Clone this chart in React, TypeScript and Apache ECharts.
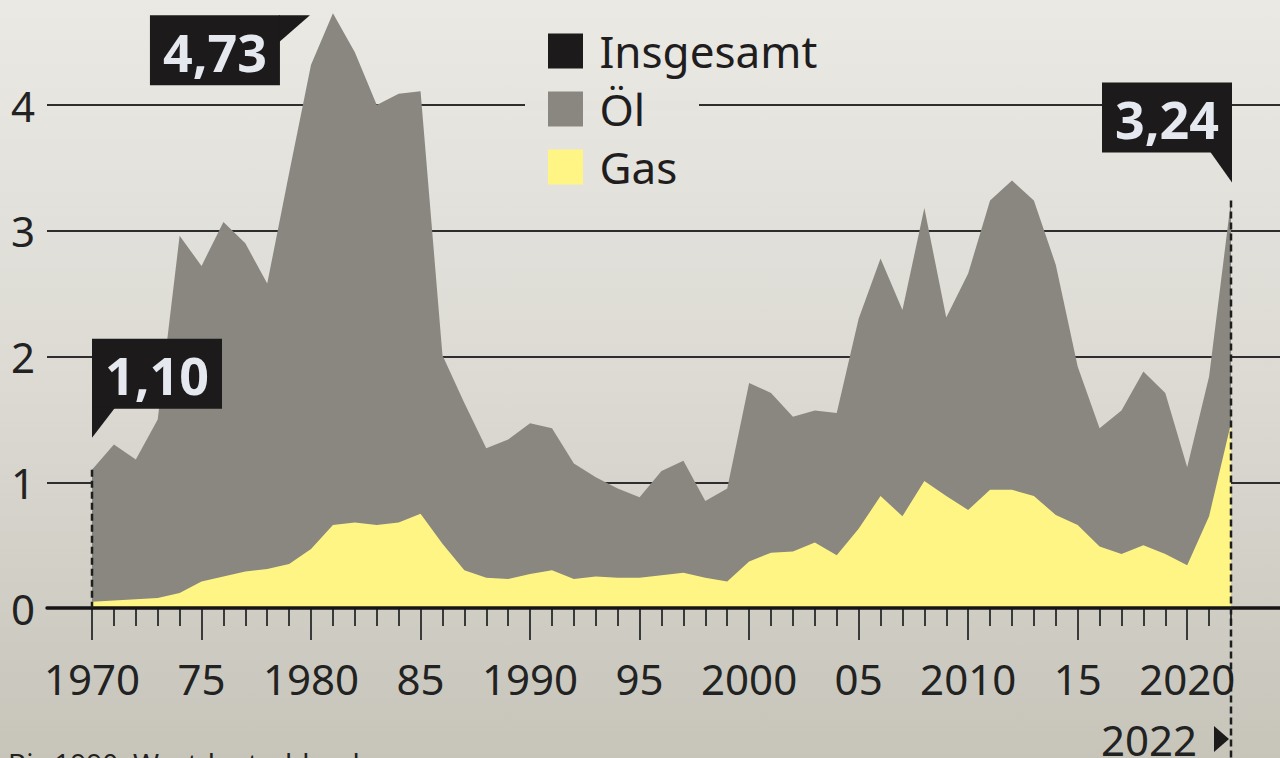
import React, { useEffect, useRef } from 'react';
import * as echarts from 'echarts';

const years = [
  '1970','1971','1972','1973','1974','1975','1976','1977','1978','1979',
  '1980','1981','1982','1983','1984','1985','1986','1987','1988','1989',
  '1990','1991','1992','1993','1994','1995','1996','1997','1998','1999',
  '2000','2001','2002','2003','2004','2005','2006','2007','2008','2009',
  '2010','2011','2012','2013','2014','2015','2016','2017','2018','2019',
  '2020','2021','2022',
];

// Insgesamt (Öl + Gas)
const total = [
  1.10, 1.30, 1.18, 1.50, 2.96, 2.72, 3.07, 2.90, 2.58, 3.46,
  4.32, 4.73, 4.42, 4.00, 4.09, 4.11, 2.01, 1.63, 1.27, 1.34,
  1.47, 1.43, 1.15, 1.04, 0.95, 0.88, 1.09, 1.17, 0.85, 0.95,
  1.79, 1.71, 1.52, 1.57, 1.55, 2.30, 2.78, 2.37, 3.18, 2.31,
  2.66, 3.24, 3.40, 3.24, 2.73, 1.92, 1.43, 1.57, 1.88, 1.71,
  1.12, 1.84, 3.24,
];

const gas = [
  0.05, 0.06, 0.07, 0.08, 0.12, 0.21, 0.25, 0.29, 0.31, 0.35,
  0.47, 0.66, 0.68, 0.66, 0.68, 0.75, 0.51, 0.30, 0.24, 0.23,
  0.27, 0.30, 0.23, 0.25, 0.24, 0.24, 0.26, 0.28, 0.24, 0.21,
  0.37, 0.44, 0.45, 0.52, 0.42, 0.63, 0.89, 0.73, 1.01, 0.89,
  0.78, 0.94, 0.94, 0.89, 0.74, 0.66, 0.49, 0.43, 0.50, 0.43,
  0.34, 0.73, 1.47,
];

const yTickMax = 4;
const legendNames = ['Insgesamt', 'Öl', 'Gas'];
const calloutYears = ['1970', '1981', '2022'];
const lastYearLabel = '2022';
const footnote = 'Bis 1990: Westdeutschland';

const FONT = '"Noto Sans", "Open Sans", sans-serif';
const C_BLACK = '#1c1a1a';
const C_OIL = '#898780';
const C_GAS = '#fff585';
const C_TEXT = '#222222';

const fmt = (v: number) => v.toFixed(2).replace('.', ',');

export default function App() {
  const ref = useRef<HTMLDivElement>(null);

  useEffect(() => {
    const chart = echarts.init(ref.current!, null, { renderer: 'svg' });
    const tickStyle = { color: '#3a3a3a', width: 2 };
    // grid 0: gridlines 0..4 (4 at y=105, 0 at y=608); grid 1: data, same scale, reaching the top edge
    const gridTop0 = 105;
    const gridBottom = 150;
    const unitPx = (758 - gridBottom - gridTop0) / yTickMax;
    const dataMax = (758 - gridBottom) / unitPx;
    const option: any = {
      animation: false,
      backgroundColor: 'transparent',
      grid: [
        { left: 47, right: 0, top: gridTop0, bottom: gridBottom },
        { left: 92, right: 49, top: 0, bottom: gridBottom },
      ],
      xAxis: [
        {
          gridIndex: 0, type: 'value', min: 0, max: 1, z: 10,
          axisLine: { show: true, onZero: false, lineStyle: { color: '#161414', width: 3.5 } },
          axisTick: { show: false }, axisLabel: { show: false }, splitLine: { show: false },
        },
        {
          gridIndex: 1, type: 'category', data: years, boundaryGap: false, position: 'bottom',
          axisLine: { show: false },
          axisTick: { show: true, interval: 0, length: 18, lineStyle: tickStyle },
          axisLabel: { show: false }, splitLine: { show: false },
        },
        {
          gridIndex: 1, type: 'category', data: years, boundaryGap: false, position: 'bottom',
          axisLine: { show: false },
          axisTick: {
            show: true, length: 32, lineStyle: tickStyle,
            interval: (i: number) => Number(years[i]) % 5 === 0,
          },
          axisLabel: {
            interval: (i: number) => Number(years[i]) % 5 === 0,
            formatter: (v: string) => (Number(v) % 10 === 0 ? v : v.slice(2)),
            fontSize: 42, color: C_TEXT, fontFamily: FONT, margin: 70, verticalAlign: 'middle',
          },
          splitLine: { show: false },
        },
      ],
      yAxis: [
        {
          gridIndex: 0, type: 'value', min: 0, max: yTickMax, interval: 1,
          axisLine: { show: false }, axisTick: { show: false },
          axisLabel: { fontSize: 42, color: C_TEXT, fontFamily: FONT, margin: 12 },
          splitLine: { show: true, lineStyle: { color: '#2e2e2e', width: 2 } },
        },
        { gridIndex: 1, type: 'value', min: 0, max: dataMax, show: false, splitLine: { show: false } },
      ],
      legend: {
        orient: 'vertical', left: 548, top: 29, padding: 0,
        itemWidth: 35, itemHeight: 35, itemGap: 14, icon: 'rect', selectedMode: false,
        formatter: (n: string) => ' ' + n,
        textStyle: { fontSize: 44, lineHeight: 44, color: '#1f1d1d', fontFamily: FONT },
        data: [
          { name: legendNames[0], itemStyle: { color: C_BLACK, opacity: 1 } },
          { name: legendNames[1], itemStyle: { color: C_OIL } },
          { name: legendNames[2], itemStyle: { color: C_GAS } },
        ],
      },
      series: [
        {
          name: legendNames[0], type: 'line', xAxisIndex: 1, yAxisIndex: 1, data: total,
          symbol: 'none', silent: true, lineStyle: { width: 0, opacity: 0 },
          itemStyle: { color: C_BLACK }, z: 1,
        },
        {
          name: legendNames[1], type: 'line', xAxisIndex: 1, yAxisIndex: 1, data: total,
          symbol: 'none', silent: true, lineStyle: { width: 0 },
          itemStyle: { color: C_OIL }, areaStyle: { color: C_OIL, opacity: 1 }, z: 2,
        },
        {
          name: legendNames[2], type: 'line', xAxisIndex: 1, yAxisIndex: 1, data: gas,
          symbol: 'none', silent: true, lineStyle: { width: 0 },
          itemStyle: { color: C_GAS }, areaStyle: { color: C_GAS, opacity: 1 }, z: 3,
        },
      ],
    };
    chart.setOption(option);

    const finder = { xAxisIndex: 1, yAxisIndex: 1 };
    const pt = (year: string) => {
      const i = years.indexOf(year);
      return chart.convertToPixel(finder, [i, total[i]]) as number[];
    };
    const y0 = (chart.convertToPixel(finder, [0, 0]) as number[])[1];
    const [a, b, c] = calloutYears.map(pt);
    const vals = calloutYears.map((y) => total[years.indexOf(y)]);
    const dash = { stroke: '#1e1e1e', lineWidth: 2.5, lineDash: [7, 4] };

    const box = (x: number, y: number, text: string, tri: number[][]) => [
      { type: 'rect', z: 30, shape: { x, y, width: 130, height: 70 }, style: { fill: C_BLACK } },
      { type: 'polygon', z: 30, shape: { points: tri }, style: { fill: C_BLACK } },
      {
        type: 'text', z: 31, x: x + 65, y: y + 36,
        style: {
          text, fill: '#e6e8ef', fontSize: 52, fontWeight: 'bold', fontFamily: FONT,
          align: 'center', verticalAlign: 'middle',
        },
      },
    ];

    chart.setOption({
      graphic: [
        { type: 'rect', z: 1, shape: { x: 525, y: 100, width: 174, height: 10 }, style: { fill: '#e4e3de' } },
        { type: 'line', z: 15, shape: { x1: a[0], y1: a[1], x2: a[0], y2: y0 }, style: dash },
        { type: 'line', z: 15, shape: { x1: c[0], y1: c[1], x2: c[0], y2: 760 }, style: dash },
        ...box(a[0], a[1] - 131, fmt(vals[0]), [[a[0], a[1] - 62], [a[0] + 23, a[1] - 62], [a[0], a[1] - 32]]),
        ...box(b[0] - 183, b[1] + 2, fmt(vals[1]), [[b[0] - 54, b[1] + 2], [b[0] - 23, b[1] + 2], [b[0] - 54, b[1] + 29]]),
        ...box(c[0] - 129, c[1] - 118, fmt(vals[2]), [[c[0] - 21, c[1] - 49], [c[0] + 1, c[1] - 49], [c[0] + 1, c[1] - 18]]),
        {
          type: 'text', z: 15, x: c[0] - 34, y: 739,
          style: {
            text: lastYearLabel, fill: C_TEXT, fontSize: 42, lineHeight: 36, fontFamily: FONT,
            align: 'right', verticalAlign: 'middle',
          },
        },
        {
          type: 'polygon', z: 15,
          shape: { points: [[c[0] - 17, 726], [c[0] - 2, 739], [c[0] - 17, 752]] },
          style: { fill: C_BLACK },
        },
        {
          type: 'text', z: 15, x: 8, y: 749,
          style: { text: footnote, fill: C_TEXT, fontSize: 28, fontFamily: FONT, align: 'left', verticalAlign: 'top' },
        },
      ],
    });

    return () => chart.dispose();
  }, []);

  return (
    <div
      style={{
        position: 'absolute', left: 0, top: 0, width: 1280, height: 758, overflow: 'hidden',
        background: 'linear-gradient(to bottom, #eae9e4 0%, #dcdad3 50%, #c7c5ba 100%)',
      }}
    >
      <div ref={ref} style={{ width: 1280, height: 758 }} />
    </div>
  );
}
